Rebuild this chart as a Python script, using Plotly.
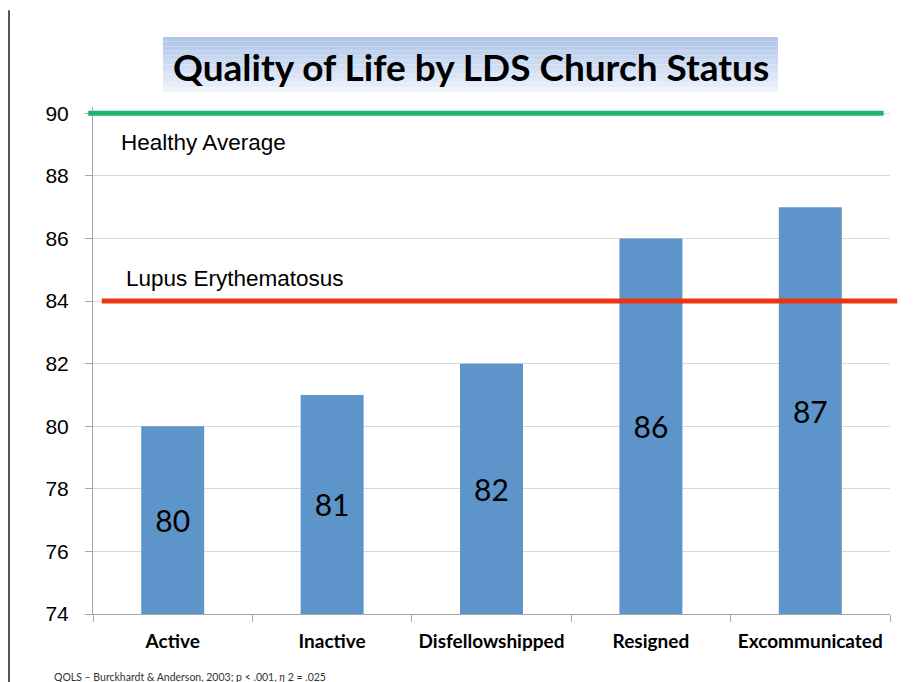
import plotly.graph_objects as go

categories = ["Active", "Inactive", "Disfellowshipped", "Resigned", "Excommunicated"]
values = [80, 81, 82, 86, 87]
healthy_average = 90
lupus_value = 84
y_ticks = [74, 76, 78, 80, 82, 84, 86, 88, 90]
title_text = "Quality of Life by LDS Church Status"
footnote = "QOLS – Burckhardt & Anderson, 2003; p < .001, <i>η</i> 2 = .025"

BAR = "#5d94c9"
CAL = "Lato, 'Open Sans', sans-serif"
ARIAL = "'Liberation Sans', Arial, sans-serif"

fig = go.Figure()
fig.add_trace(go.Bar(
    x=categories, y=[v - y_ticks[0] for v in values], base=y_ticks[0],
    marker=dict(color=BAR, line=dict(width=0)),
    text=[str(v) for v in values], textposition="inside", insidetextanchor="middle",
    textfont=dict(family=CAL, size=30, color="black"),
    hoverinfo="skip",
))

shapes = []
# title gradient box
top_c = (176, 199, 234)
bot_c = (236, 241, 250)
n = 12
y_top, y_bot = 1.138, 1.030
for i in range(n):
    t = i / (n - 1)
    c = tuple(int(top_c[k] + (bot_c[k] - top_c[k]) * t) for k in range(3))
    shapes.append(dict(type="rect", xref="paper", yref="paper",
                       x0=0.0878, x1=0.8595,
                       y0=y_top - (y_top - y_bot) * (i + 1) / n,
                       y1=y_top - (y_top - y_bot) * i / n,
                       fillcolor="rgb(%d,%d,%d)" % c, line=dict(width=0), layer="below"))
# left slide border
shapes.append(dict(type="line", xref="paper", yref="paper", x0=-0.1054, x1=-0.1054,
                   y0=1.191, y1=-0.14, line=dict(color="#555555", width=2)))
# reference lines
shapes.append(dict(type="line", xref="paper", yref="y", x0=-0.006, x1=0.992,
                   y0=healthy_average, y1=healthy_average,
                   line=dict(color="#1fb46c", width=5), layer="above"))
shapes.append(dict(type="line", xref="paper", yref="y", x0=0.011, x1=1.009,
                   y0=lupus_value, y1=lupus_value,
                   line=dict(color="#ec3414", width=5), layer="above"))

annotations = [
    dict(text="<b>" + title_text + "</b>", xref="paper", yref="paper", x=0.4737, y=1.079,
         showarrow=False, font=dict(family=CAL, size=37, color="black"),
         xanchor="center", yanchor="middle"),
    dict(text="Healthy Average", xref="paper", yref="y", x=0.033, y=healthy_average,
         yshift=-29, showarrow=False, xanchor="left", yanchor="middle",
         font=dict(family=ARIAL, size=22.5, color="black")),
    dict(text="Lupus Erythematosus", xref="paper", yref="y", x=0.039, y=lupus_value,
         yshift=23, showarrow=False, xanchor="left", yanchor="middle",
         font=dict(family=ARIAL, size=22.5, color="black")),
    dict(text=footnote, xref="paper", yref="paper", x=-0.0514, y=-0.124,
         showarrow=False, xanchor="left", yanchor="middle",
         font=dict(family=CAL, size=10.5, color="#333333")),
]

fig.update_layout(
    width=909, height=674,
    margin=dict(l=85, r=27, t=99, b=68),
    paper_bgcolor="white", plot_bgcolor="white",
    showlegend=False, bargap=0.605,
    shapes=shapes, annotations=annotations,
    xaxis=dict(
        type="category", showline=True, linecolor="#a6a6a6", linewidth=1,
        ticks="outside", tickson="boundaries", ticklen=7, tickcolor="#a6a6a6",
        showgrid=False,
        tickfont=dict(family=CAL, size=19, color="black", weight="bold"),
        ticklabelstandoff=10,
    ),
    yaxis=dict(
        range=[74, 90.2], tickvals=y_ticks, showline=True, linecolor="#a6a6a6",
        linewidth=1, ticks="outside", ticklen=7, tickcolor="#a6a6a6",
        showgrid=True, gridcolor="#d9d9d9", gridwidth=1, zeroline=False,
        tickfont=dict(family=ARIAL, size=21, color="black"),
        ticklabelstandoff=12,
    ),
)

fig.write_html("out.html")
